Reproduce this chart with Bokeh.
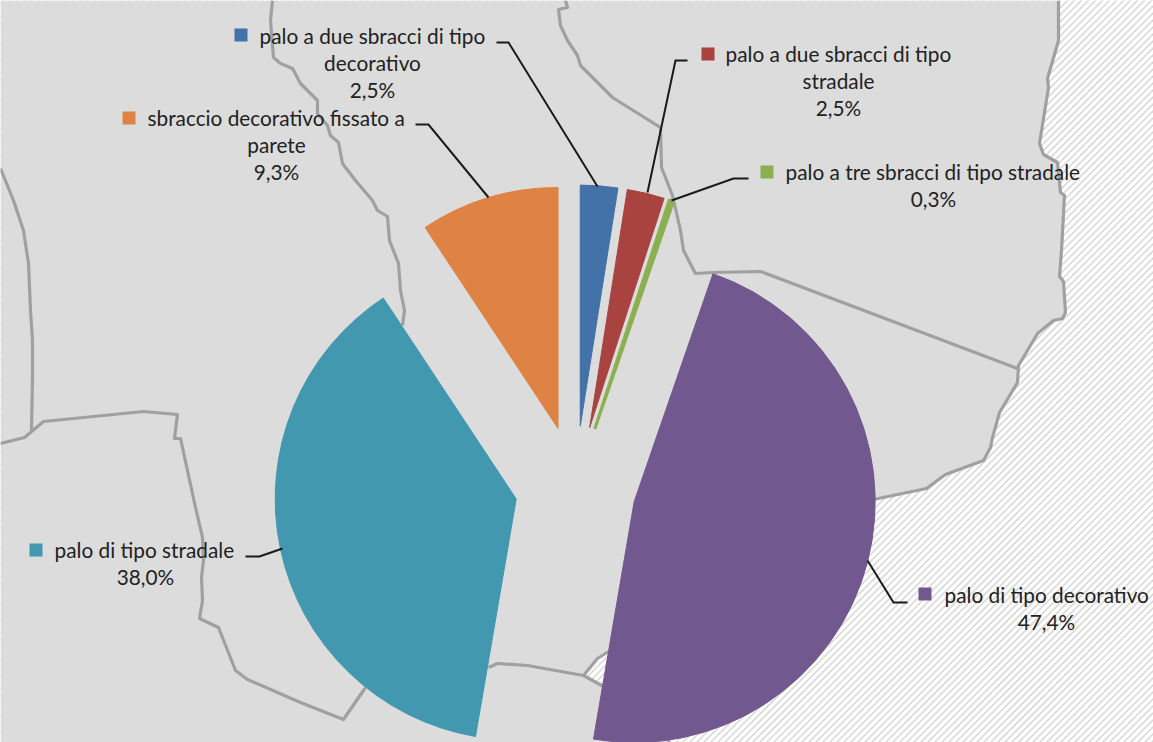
import numpy as np
from bokeh.plotting import figure
from bokeh.models import Range1d
from bokeh.core.properties import value
from bokeh.embed import file_html
from bokeh.resources import INLINE

# ---- data ----
categories = ["palo a due sbracci di tipo decorativo", "palo a due sbracci di tipo stradale",
              "palo a tre sbracci di tipo stradale", "palo di tipo decorativo",
              "palo di tipo stradale", "sbraccio decorativo fissato a parete"]
values = [2.5, 2.5, 0.3, 47.4, 38.0, 9.3]
colors = ["#4272A8", "#A8433F", "#8CB050", "#71588F", "#4198AF", "#DE8344"]
label_lines = [["palo a due sbracci di tipo", "decorativo"],
               ["palo a due sbracci di tipo", "stradale"],
               ["palo a tre sbracci di tipo stradale"],
               ["palo di tipo decorativo"],
               ["palo di tipo stradale"],
               ["sbraccio decorativo fissato a", "parete"]]

# ---- layout (picture pixels) ----
W, H = 1153, 742
CX, CY, R, EXPLODE = 575, 486, 241, 60.6
FS = "20.8px"
LH = 27
edge_widths = [1, 1, 3, 1, 1, 1]
# first line left x, first line mid y, centre x of the lines beneath, square left, square top
label_pos = [(259, 35, 372, 234, 28), (725, 53, 838, 701, 47), (785, 171, 933, 760, 165),
             (944, 594, 1046, 918, 587), (54, 549, 145, 29, 543), (147, 117, 276, 122, 111)]
leaders = [[(496, 42), (508, 42), (597, 186)],
           [(687, 60), (675, 60), (647, 192)],
           [(748, 178), (733, 178), (671, 200)],
           [(907, 602), (893, 602), (867, 560)],
           [(245, 556), (259, 556), (282, 548)],
           [(415, 124), (428, 124), (488, 197)]]

# ---- background map outlines ----
coast = [(1058, 0), (1058, 40), (1047, 78), (1048, 87), (1039, 143), (1043, 154), (1057, 162), (1060, 192),
         (1064, 195), (1061, 250), (1059, 276), (1063, 281), (1065, 312), (1062, 318), (1053, 320), (1037, 333),
         (1018, 365), (1017, 382), (999, 412), (992, 437), (990, 447), (983, 460), (945, 474), (926, 488), (873, 499)]
hidden = [(750, 550), (640, 640), (608, 651), (597, 658), (583, 675), (603, 686), (640, 700), (660, 735),
          (667, 738), (672, 750), (0, 750), (0, 0)]
borders = [
    coast,
    [(272, 0), (270, 20), (273, 57), (280, 63), (292, 68), (300, 83), (317, 100), (317, 113), (327, 125), (330, 135),
     (338, 142), (342, 163), (355, 180), (372, 200), (377, 210), (387, 216), (389, 240), (398, 263), (400, 290),
     (404, 310), (402, 325)],
    [(565, 0), (567, 7), (558, 9), (560, 25), (567, 40), (577, 55), (580, 65), (593, 78), (612, 97), (660, 127),
     (661, 167), (672, 195), (680, 230), (683, 250), (695, 273), (712, 272), (760, 271), (1017, 368)],
    [(0, 168), (13, 200), (23, 230), (28, 263), (30, 310), (32, 340), (32, 377), (31, 430)],
    [(0, 443), (24, 437), (43, 421), (143, 411), (177, 414), (174, 438), (180, 438), (195, 507), (202, 537), (203, 560),
     (201, 577), (202, 600), (199, 618), (218, 627), (235, 670), (247, 679), (300, 702), (343, 719), (365, 687)],
    [(488, 667), (497, 663), (527, 665), (583, 675), (603, 686)],
    [(583, 675), (597, 658), (608, 651)],
    [(667, 738), (672, 750)],
]

yf = lambda y: H - y

p = figure(width=W, height=H, output_backend="svg", toolbar_location=None,
           x_range=Range1d(0, W), y_range=Range1d(0, H), min_border=0,
           background_fill_color="white", border_fill_color="white", outline_line_color=None)
p.axis.visible = False
p.grid.visible = False

# sea hatch
offs = np.arange(-1200, 1200, 7.0)
p.multi_line([[0, W] for _ in offs], [[c, c + W] for c in offs], line_color="#DADADA", line_width=1.6)

# land
land = coast + hidden
p.patch([q[0] for q in land], [yf(q[1]) for q in land], fill_color="#DCDCDC", line_color=None)
p.multi_line([[q[0] for q in b] for b in borders], [[yf(q[1]) for q in b] for b in borders],
             line_color="#A0A0A0", line_width=3.2, line_join="round")

# pie
fr = np.array(values) / sum(values) * 2 * np.pi
a1 = np.cumsum(fr)
a0 = a1 - fr
mid = (a0 + a1) / 2
p.wedge(x=CX + EXPLODE * np.sin(mid), y=yf(CY + -EXPLODE * np.cos(mid)), radius=R,
        start_angle=np.pi / 2 - a0, end_angle=np.pi / 2 - a1, direction="clock",
        fill_color=colors, line_color=colors, line_width=edge_widths)

# leaders
p.multi_line([[q[0] for q in l] for l in leaders], [[yf(q[1]) for q in l] for l in leaders],
             line_color="#1A1A1A", line_width=2, line_join="miter")

# labels
tx, ty, ta, tt = [], [], [], []
for lines, v, (lx, ly, cx, sx, sy) in zip(label_lines, values, label_pos):
    rows = lines + [f"{v:.1f}%".replace(".", ",")]
    for i, t in enumerate(rows):
        tx.append(lx if i == 0 else cx)
        ty.append(yf(ly + i * LH))
        ta.append("left" if i == 0 else "center")
        tt.append(t)
p.text(x=tx, y=ty, text=tt, text_align=ta, text_baseline="middle", text_font=value("Lato"),
       text_font_size=FS, text_color="#222222")
S = 13
p.quad(left=[q[3] for q in label_pos], right=[q[3] + S for q in label_pos],
       top=[yf(q[4]) for q in label_pos], bottom=[yf(q[4] + S) for q in label_pos],
       fill_color=colors, line_color=None)

open("out.html", "w").write(file_html(p, INLINE))
